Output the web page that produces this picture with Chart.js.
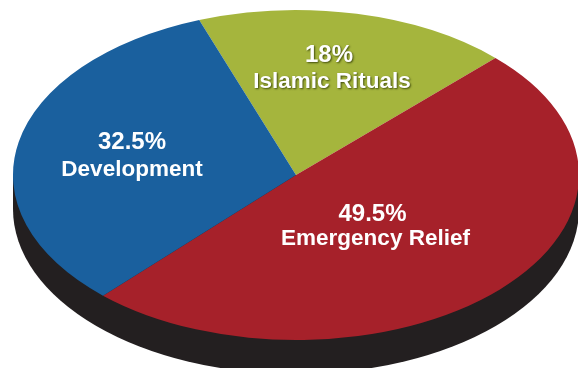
<!DOCTYPE html>
<html>
<head>
<meta charset="utf-8">
<title>Pie</title>
<script src="https://cdn.jsdelivr.net/npm/chart.js@4"></script>
<style>
    html, body { margin: 0; padding: 0; background: #fff; overflow: hidden; }
    #pie { display: block; filter: blur(0.6px); }
</style>
</head>
<body>
<canvas id="pie" width="578" height="368"></canvas>
<script>
const categories = ['Islamic Rituals', 'Emergency Relief', 'Development'];
const shares = [18, 49.5, 32.5];
const shareLabels = ['18%', '49.5%', '32.5%'];
const colors = ['#a5b53d', '#a6212a', '#1a609e'];

// the flat ellipse the round pie gets squashed into
const ellipse = { x: 296, y: 175, rx: 283, ry: 165 };
const depth = 34;
const labelSpots = [
    { pctX: 329, pctY: 62, nameX: 332, nameY: 88 },
    { pctX: 372.5, pctY: 221, nameX: 375.5, nameY: 245 },
    { pctX: 132, pctY: 149, nameX: 132, nameY: 176 }
];

const tilted = {
    id: 'tilted',
    beforeDatasetsDraw(chart) {
        const ctx = chart.ctx;
        const arc = chart.getDatasetMeta(0).data[0];
        const r = arc.outerRadius;
        const sy = ellipse.ry / r;
        ctx.save();
        ctx.translate(ellipse.x, ellipse.y);
        ctx.scale(ellipse.rx / r, sy);
        ctx.translate(-arc.x, -arc.y);

        // black side of the disc
        const d = depth / sy;
        ctx.beginPath();
        ctx.moveTo(arc.x - r, arc.y);
        ctx.lineTo(arc.x - r, arc.y + d);
        ctx.arc(arc.x, arc.y + d, r, Math.PI, 0, true);
        ctx.lineTo(arc.x + r, arc.y);
        ctx.closePath();
        ctx.fillStyle = '#231f20';
        ctx.fill();
    },
    afterDatasetsDraw(chart) {
        chart.ctx.restore();
    },
    afterDraw(chart) {
        const ctx = chart.ctx;
        ctx.save();
        ctx.fillStyle = '#fff';
        ctx.textAlign = 'center';
        categories.forEach((name, i) => {
            const spot = labelSpots[i];
            if (i === 0) {
                ctx.shadowColor = 'rgba(40,50,0,0.8)';
                ctx.shadowOffsetX = 1;
                ctx.shadowOffsetY = 1;
                ctx.shadowBlur = 2;
            } else {
                ctx.shadowColor = 'transparent';
            }
            ctx.font = 'bold 24px "Liberation Sans"';
            ctx.fillText(shareLabels[i], spot.pctX, spot.pctY);
            ctx.font = 'bold 22.5px "Liberation Sans"';
            ctx.fillText(name, spot.nameX, spot.nameY);
        });
        ctx.restore();
    }
};

new Chart(document.getElementById('pie').getContext('2d'), {
    type: 'pie',
    data: {
        labels: categories,
        datasets: [{
            data: shares,
            backgroundColor: colors,
            borderWidth: 0,
            clip: false
        }]
    },
    options: {
        responsive: false,
        animation: false,
        rotation: -20,
        layout: { padding: 0 },
        plugins: {
            legend: { display: false },
            tooltip: { enabled: false }
        }
    },
    plugins: [tilted]
});
</script>
</body>
</html>
